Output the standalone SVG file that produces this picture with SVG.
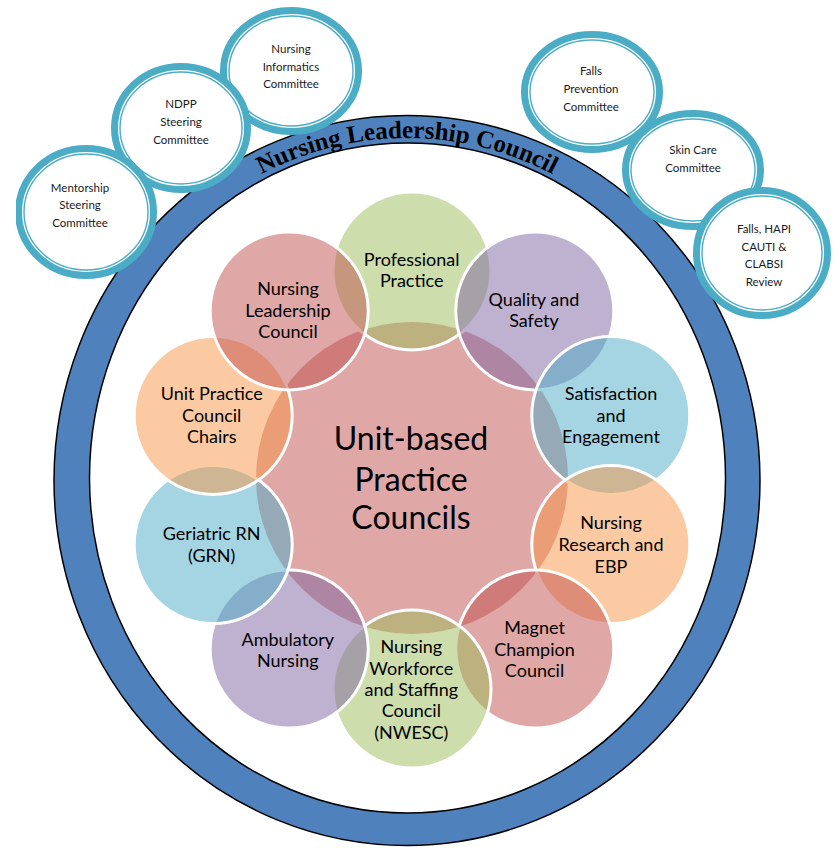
<svg xmlns="http://www.w3.org/2000/svg" width="835" height="848" viewBox="0 0 835 848">
  <defs>
    <style>
      .band { fill: #4F81BD; stroke: #000; stroke-width: 1.5; }
      .inner { fill: #FFFFFF; stroke: #000; stroke-width: 1.5; }
      .title { font-family: "Liberation Serif", "DejaVu Serif", serif; font-weight: bold; font-size: 25px; fill: #000; }
      .cm-outer { fill: #FFFFFF; stroke: #4BACC6; stroke-width: 7; }
      .cm-inner { fill: none; stroke: #4BACC6; stroke-width: 1.4; }
      .cm-text { font-family: Lato, "Liberation Sans", sans-serif; font-size: 11.5px; fill: #1a1a1a; text-anchor: middle; }
      .petal { stroke: #FFFFFF; stroke-width: 3; fill-opacity: 0.5; }
      .hub { fill: #C0504D; fill-opacity: 0.5; stroke: none; }
      .pink { fill: #C0504D; }
      .green { fill: #9BBB59; }
      .purple { fill: #8064A2; }
      .aqua { fill: #4BACC6; }
      .orange { fill: #F79646; }
      .p-text { font-family: Lato, "Liberation Sans", sans-serif; font-size: 18px; fill: #000; text-anchor: middle; }
      .hub-text { font-family: Lato, "Liberation Sans", sans-serif; font-size: 32px; fill: #000; text-anchor: middle; }
    </style>
    <path id="titleArc" d="M 82 480 A 325 342 0 0 1 732 480"/>
    <clipPath id="leftCut">
      <rect x="16" y="0" width="819" height="848"/>
    </clipPath>
  </defs>

  <rect width="835" height="848" fill="#FFFFFF"/>

  <!-- Outer council ring -->
  <g id="leadership-ring">
    <ellipse class="band" cx="407" cy="480.5" rx="353" ry="365"/>
    <ellipse class="inner" cx="407.5" cy="478" rx="318" ry="335"/>
    <text class="title"><textPath href="#titleArc" startOffset="50%" text-anchor="middle">Nursing Leadership Council</textPath></text>
  </g>

  <!-- Committees, left cluster -->
  <g id="informatics-committee">
    <ellipse class="cm-outer" cx="291" cy="71" rx="67.5" ry="60.5"/>
    <ellipse class="cm-inner" cx="291" cy="71" rx="62" ry="55"/>
    <text class="cm-text" x="291" y="52.7">Nursing</text>
    <text class="cm-text" x="291" y="70.7">Informatics</text>
    <text class="cm-text" x="291" y="88.3">Committee</text>
  </g>
  <g id="ndpp-committee">
    <ellipse class="cm-outer" cx="181" cy="128" rx="66.5" ry="61.5"/>
    <ellipse class="cm-inner" cx="181" cy="128" rx="61" ry="56"/>
    <text class="cm-text" x="181" y="108.3">NDPP</text>
    <text class="cm-text" x="181" y="126">Steering</text>
    <text class="cm-text" x="181" y="144">Committee</text>
  </g>
  <g id="mentorship-committee" clip-path="url(#leftCut)">
    <ellipse class="cm-outer" cx="86" cy="212" rx="67.5" ry="63.5"/>
    <ellipse class="cm-inner" cx="86" cy="212" rx="62" ry="58"/>
    <text class="cm-text" x="80" y="191.7">Mentorship</text>
    <text class="cm-text" x="80" y="209.3">Steering</text>
    <text class="cm-text" x="80" y="226.7">Committee</text>
  </g>

  <!-- Committees, right cluster -->
  <g id="falls-prevention-committee">
    <ellipse class="cm-outer" cx="592" cy="92" rx="67.5" ry="57.5"/>
    <ellipse class="cm-inner" cx="592" cy="92" rx="62" ry="52"/>
    <text class="cm-text" x="591" y="75">Falls</text>
    <text class="cm-text" x="591" y="93.3">Prevention</text>
    <text class="cm-text" x="591" y="111">Committee</text>
  </g>
  <g id="skin-care-committee">
    <ellipse class="cm-outer" cx="693" cy="170" rx="67.5" ry="56.5"/>
    <ellipse class="cm-inner" cx="693" cy="170" rx="62" ry="51"/>
    <text class="cm-text" x="693" y="154">Skin Care</text>
    <text class="cm-text" x="693" y="172.3">Committee</text>
  </g>
  <g id="review-committee">
    <ellipse class="cm-outer" cx="762" cy="253" rx="65.5" ry="62.5"/>
    <ellipse class="cm-inner" cx="762" cy="253" rx="60" ry="57"/>
    <text class="cm-text" x="764" y="233.3">Falls, HAPI</text>
    <text class="cm-text" x="764" y="250.7">CAUTI &amp;</text>
    <text class="cm-text" x="764" y="268.3">CLABSI</text>
    <text class="cm-text" x="764" y="286">Review</text>
  </g>

  <!-- Central hub -->
  <g id="unit-based-councils">
    <circle class="hub" cx="412" cy="478" r="156"/>
  </g>

  <!-- Radial councils, clockwise from the top -->
  <g id="professional-practice">
    <circle class="petal green" cx="412" cy="271" r="79"/>
  </g>
  <g id="quality-safety">
    <circle class="petal purple" cx="534.8" cy="310.9" r="79"/>
  </g>
  <g id="satisfaction-engagement">
    <circle class="petal aqua" cx="610.8" cy="415.4" r="79"/>
  </g>
  <g id="research-ebp">
    <circle class="petal orange" cx="610.8" cy="544.6" r="79"/>
  </g>
  <g id="magnet-champion">
    <circle class="petal pink" cx="534.8" cy="649.1" r="79"/>
  </g>
  <g id="nwesc">
    <circle class="petal green" cx="412" cy="689" r="79"/>
  </g>
  <g id="ambulatory-nursing">
    <circle class="petal purple" cx="289.2" cy="649.1" r="79"/>
  </g>
  <g id="geriatric-rn">
    <circle class="petal aqua" cx="213.2" cy="544.6" r="79"/>
  </g>
  <g id="unit-practice-chairs">
    <circle class="petal orange" cx="213.2" cy="415.4" r="79"/>
  </g>
  <g id="nursing-leadership">
    <circle class="petal pink" cx="289.2" cy="310.9" r="79"/>
  </g>

  <!-- Labels -->
  <g id="labels">
    <text class="hub-text" x="411" y="450">Unit-based</text>
    <text class="hub-text" x="411" y="490.7">Practice</text>
    <text class="hub-text" x="411" y="529.3">Councils</text>

    <text class="p-text" x="411.7" y="266">Professional</text>
    <text class="p-text" x="411.7" y="287.3">Practice</text>

    <text class="p-text" x="534" y="305.5">Quality and</text>
    <text class="p-text" x="534" y="326.7">Safety</text>

    <text class="p-text" x="611" y="400">Satisfaction</text>
    <text class="p-text" x="611" y="421.5">and</text>
    <text class="p-text" x="611" y="443">Engagement</text>

    <text class="p-text" x="611" y="529">Nursing</text>
    <text class="p-text" x="611" y="551">Research and</text>
    <text class="p-text" x="611" y="572.7">EBP</text>

    <text class="p-text" x="534.5" y="634">Magnet</text>
    <text class="p-text" x="534.5" y="655.7">Champion</text>
    <text class="p-text" x="534.5" y="677.3">Council</text>

    <text class="p-text" x="411.3" y="653.3">Nursing</text>
    <text class="p-text" x="411.3" y="674.5">Workforce</text>
    <text class="p-text" x="411.3" y="696">and Staffing</text>
    <text class="p-text" x="411.3" y="717.3">Council</text>
    <text class="p-text" x="411.3" y="739">(NWESC)</text>

    <text class="p-text" x="287.8" y="646">Ambulatory</text>
    <text class="p-text" x="287.8" y="667.3">Nursing</text>

    <text class="p-text" x="211.7" y="540">Geriatric RN</text>
    <text class="p-text" x="211.7" y="561.7">(GRN)</text>

    <text class="p-text" x="211.7" y="400">Unit Practice</text>
    <text class="p-text" x="211.7" y="421.7">Council</text>
    <text class="p-text" x="211.7" y="443.3">Chairs</text>

    <text class="p-text" x="288" y="295">Nursing</text>
    <text class="p-text" x="288" y="316.7">Leadership</text>
    <text class="p-text" x="288" y="338">Council</text>
  </g>
</svg>
